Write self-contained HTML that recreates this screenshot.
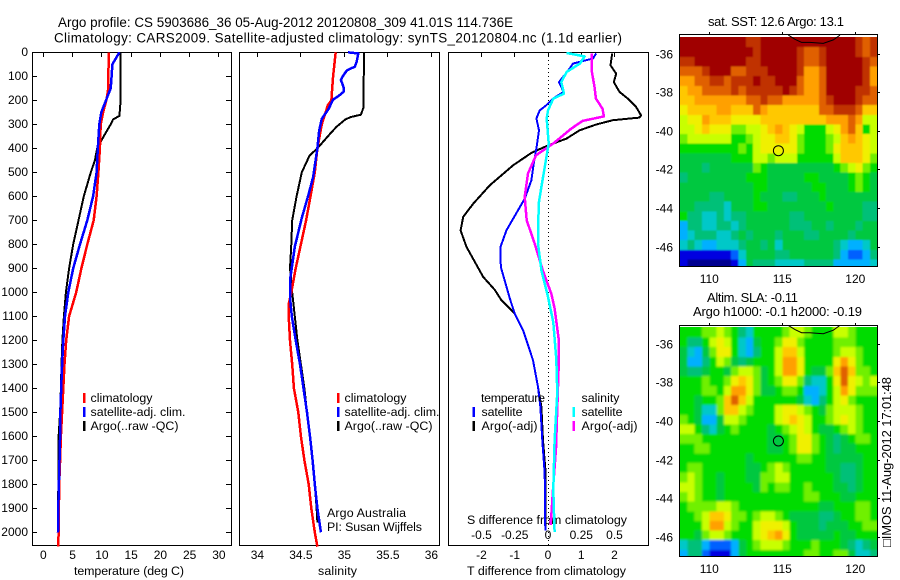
<!DOCTYPE html>
<html>
<head>
<meta charset="utf-8">
<title>Argo profile</title>
<style>
html,body{margin:0;padding:0;background:#fff;}
svg{display:block;}
text{font-family:"Liberation Sans",sans-serif;font-size:12px;fill:#000;}
text.lg{font-size:12.4px;}
text.ttl{font-size:13.4px;}
text.mttl{font-size:13px;}
</style>
</head>
<body>
<svg id="fig" xmlns="http://www.w3.org/2000/svg" width="900" height="580" viewBox="0 0 900 580">
<defs>
<clipPath id="clip-sst-map"><rect x="680" y="37" width="197" height="229"/></clipPath>
<clipPath id="clip-sla-map"><rect x="680" y="327" width="197" height="229"/></clipPath>
<filter id="blur-sst-map" filterUnits="userSpaceOnUse" x="650" y="0" width="250" height="300"><feGaussianBlur stdDeviation="0.7"/></filter>
<filter id="blur-sla-map" filterUnits="userSpaceOnUse" x="650" y="300" width="250" height="280"><feGaussianBlur stdDeviation="1.1"/></filter>
</defs>
<rect x="0" y="0" width="900" height="580" fill="#fff"/>
<text class="ttl" x="58" y="27" textLength="455" lengthAdjust="spacing">Argo profile: CS 5903686_36 05-Aug-2012 20120808_309 41.01S 114.736E</text>
<text class="ttl" x="54" y="42.5" textLength="568" lengthAdjust="spacing">Climatology: CARS2009. Satellite-adjusted climatology: synTS_20120804.nc (1.1d earlier)</text>

<text class="lg" x="74" y="575" textLength="110" lengthAdjust="spacing">temperature (deg C)</text>
<text class="lg" x="318" y="575" textLength="39" lengthAdjust="spacing">salinity</text>
<text class="lg" x="467" y="575" textLength="159" lengthAdjust="spacing">T difference from climatology</text>
<text class="lg" x="467" y="524" textLength="160" lengthAdjust="spacing">S difference from climatology</text>

<text class="mttl" x="708" y="26" textLength="136" lengthAdjust="spacing">sat. SST: 12.6 Argo: 13.1</text>
<text class="mttl" x="707" y="302" textLength="91" lengthAdjust="spacing">Altim. SLA: -0.11</text>
<text class="mttl" x="693" y="316" textLength="169" lengthAdjust="spacing">Argo h1000: -0.1 h2000: -0.19</text>
<text class="mttl" transform="translate(891,547) rotate(-90)" textLength="170" lengthAdjust="spacing">□IMOS 11-Aug-2012 17:01:48</text>

<text class="lg" x="327" y="517" textLength="79" lengthAdjust="spacing">Argo Australia</text>
<text class="lg" x="327" y="531" textLength="95" lengthAdjust="spacing">PI: Susan Wijffels</text>

<g id="overlay">
<rect x="83" y="393" width="2.5" height="10" fill="#ff0000"/>
<rect x="83" y="407" width="2.5" height="10" fill="#0000ff"/>
<rect x="83" y="421" width="2.5" height="10" fill="#000"/>
<text class="lg" x="90.5" y="402" textLength="62" lengthAdjust="spacing">climatology</text>
<text class="lg" x="90.5" y="416" textLength="95" lengthAdjust="spacing">satellite-adj. clim.</text>
<text class="lg" x="90.5" y="430" textLength="88" lengthAdjust="spacing">Argo(..raw -QC)</text>

<rect x="337" y="393" width="2.5" height="10" fill="#ff0000"/>
<rect x="337" y="407" width="2.5" height="10" fill="#0000ff"/>
<rect x="337" y="421" width="2.5" height="10" fill="#000"/>
<text class="lg" x="344.5" y="402" textLength="62" lengthAdjust="spacing">climatology</text>
<text class="lg" x="344.5" y="416" textLength="95" lengthAdjust="spacing">satellite-adj. clim.</text>
<text class="lg" x="344.5" y="430" textLength="88" lengthAdjust="spacing">Argo(..raw -QC)</text>

<text class="lg" x="481" y="402" textLength="64" lengthAdjust="spacing">temperature</text>
<text class="lg" x="581.5" y="402" textLength="38" lengthAdjust="spacing">salinity</text>
<rect x="472.5" y="407" width="2.5" height="10" fill="#0000ff"/>
<rect x="472.5" y="421" width="2.5" height="10" fill="#000"/>
<rect x="572.5" y="407" width="2.5" height="10" fill="#00ffff"/>
<rect x="572.5" y="421" width="2.5" height="10" fill="#ff00ff"/>
<text class="lg" x="481.5" y="416" textLength="41" lengthAdjust="spacing">satellite</text>
<text class="lg" x="481.5" y="430" textLength="56" lengthAdjust="spacing">Argo(-adj)</text>
<text class="lg" x="581.5" y="416" textLength="41" lengthAdjust="spacing">satellite</text>
<text class="lg" x="581.5" y="430" textLength="56" lengthAdjust="spacing">Argo(-adj)</text>
</g>
</svg>

<script>
// ---- depth axis ----
const depthTicks = [0,100,200,300,400,500,600,700,800,900,1000,1100,1200,1300,1400,1500,1600,1700,1800,1900,2000];

// ---- temperature panel ----
const tempTicks = [0,5,10,15,20,25,30];
const tempClimDepth = [0,100,150,180,200,250,300,400,500,600,700,800,900,1000,1100,1200,1300,1400,1500,1600,1700,1800,1900,2000,2060];
const tempClimValue = [11.2,11.1,11.1,10.9,10.75,10.2,9.8,9.65,9.4,9.1,8.6,7.5,6.5,5.6,4.4,3.9,3.6,3.4,3.2,3.0,2.85,2.7,2.65,2.6,2.55];
const tempSatDepth = [0,50,100,150,200,250,300,400,500,600,700,800,900,1000,1100,1200,1300,1400,1500,1600,1700,1800,1900,2000];
const tempSatValue = [13.0,11.8,11.65,11.5,10.7,9.9,9.55,9.3,9.1,8.5,7.5,6.25,5.1,4.26,3.7,3.4,3.2,3.05,2.9,2.85,2.75,2.65,2.55,2.5];
const tempArgoDepth = [0,200,250,265,280,300,350,400,450,500,600,700,800,900,1000,1100,1200,1300,1400,1500,1600,1800,2000];
const tempArgoValue = [13.2,13.2,13.05,13.0,11.9,11.5,10.3,9.2,8.8,8.1,6.9,6.0,5.1,4.4,3.85,3.5,3.25,3.1,3.0,2.85,2.6,2.55,2.5];

// ---- salinity panel ----
const salTicks = [34,34.5,35,35.5,36];
const salClimDepth = [0,100,150,200,220,300,400,500,600,700,800,900,1000,1050,1100,1200,1300,1400,1500,1600,1700,1800,1900,2000,2060];
const salClimValue = [34.9,34.87,34.86,34.85,34.81,34.74,34.69,34.66,34.61,34.56,34.5,34.44,34.39,34.36,34.36,34.375,34.4,34.42,34.47,34.5,34.54,34.59,34.62,34.66,34.69];
const salSatDepth = [0,5,40,60,75,95,115,145,165,183,197,235,277,325,400,520,590,690,810,935,1020,1100,1200,1300,1400,1500,1600,1700,1800,1900,2000];
const salSatValue = [35.04,35.16,35.14,35.12,35.03,34.99,34.96,34.99,34.99,34.93,34.87,34.82,34.74,34.71,34.69,34.64,34.59,34.51,34.43,34.38,34.375,34.395,34.44,34.49,34.53,34.57,34.605,34.635,34.66,34.69,34.73];
const salArgoDepth = [0,200,230,260,270,280,310,340,400,430,500,600,700,800,900,1000,1100,1200,1300,1400,1500,1600,1700,1800,1900,1960];
const salArgoValue = [35.225,35.22,35.22,35.19,35.07,35.01,34.91,34.835,34.69,34.6,34.51,34.45,34.4,34.39,34.375,34.4,34.43,34.46,34.5,34.54,34.57,34.605,34.635,34.66,34.68,34.69];

// ---- difference panel ----
const tDiffTicks = [-2,-1,0,1,2];
const sDiffTicks = [-0.5,-0.25,0,0.25,0.5];
const dTArgoDepth = [5,54,89,124,165,193,228,263,272,283,301,325,360,388,419,471,554,631,686,742,811,936,990,1033,1089,1158,1283,1394,1478,1617,1755,1992];
const dTArgoValue = [1.93,1.88,2.05,1.98,2.15,2.4,2.65,2.8,2.75,1.95,1.45,0.95,0.55,0,-0.5,-1.05,-1.75,-2.25,-2.55,-2.63,-2.45,-1.95,-1.6,-1.4,-1.0,-0.75,-0.45,-0.3,-0.2,-0.15,-0.07,-0.07];
const dTSatDepth = [5,26,47,68,124,165,193,221,242,276,325,401,464,533,610,742,811,894,1026,1089,1158,1283,1394,1478,1617,1755,1992];
const dTSatValue = [1.45,1.35,0.75,0.65,0.33,0.47,0.15,-0.05,-0.25,-0.35,-0.27,-0.35,-0.43,-0.5,-0.7,-1.25,-1.43,-1.42,-1.15,-1.0,-0.75,-0.45,-0.3,-0.23,-0.17,-0.1,-0.08];
const dSArgoDepth = [5,82,144,193,235,267,286,318,380,429,505,603,700,797,908,1006,1067,1192,1317,1483,1650,1803,1970];
const dSArgoValue = [0.33,0.33,0.35,0.36,0.41,0.42,0.26,0.175,0.04,-0.09,-0.15,-0.175,-0.16,-0.1,-0.04,0.025,0.05,0.08,0.08,0.07,0.06,0.04,0.02];
const dSSatDepth = [3,17,47,82,124,172,193,242,276,380,464,561,631,797,908,1019,1125,1278,1417,1617,1825,1999];
const dSSatValue = [0.14,0.275,0.24,0.14,0.10,0.12,0.04,0,-0.01,0.005,-0.02,-0.05,-0.07,-0.075,-0.05,0,0.04,0.0625,0.07,0.05,0.04,0.05];

// ---- maps ----
const lonTicks = [110,115,120];
const latTicks = [-36,-38,-40,-42,-44,-46];
const argoLon = 114.736;
const argoLat = -41.01;
const coastLon = [115.41,115.87,116.32,116.89,117.81,118.49,118.95];
const coastLat = [-35.02,-35.24,-35.40,-35.40,-35.45,-35.27,-35.02];
// colour-class values per half-degree cell, north to south, west to east
const sstGrid = [
[15,15,15,15,15,15,15,15,15,14,14,15,15,15,15,15,15,15,15,15,15,15,15,15,14,13,14],
[15,15,15,15,15,15,15,15,15,15,14,15,15,15,15,15,14,13,13,14,15,15,15,15,14,13,14],
[14,14,15,15,15,15,15,15,15,14,14,15,15,15,15,15,14,13,13,14,15,15,15,15,15,14,13],
[13,13,13,14,15,15,15,13,13,14,14,14,15,15,15,15,14,12,12,13,15,15,15,15,15,14,12],
[12,12,13,13,14,14,13,14,14,14,15,14,14,15,15,15,13,12,12,13,15,15,15,15,15,14,12],
[11,12,12,13,13,13,13,14,13,14,14,14,14,14,15,14,13,12,12,13,15,15,15,15,14,14,13],
[11,11,12,12,12,12,12,12,12,13,13,14,13,13,12,12,12,12,12,13,14,15,15,15,14,13,13],
[10,11,11,11,11,12,12,11,11,11,13,12,11,11,11,11,11,11,11,13,13,14,14,14,13,11,11],
[9,10,10,12,11,11,11,10,10,10,10,11,11,11,11,11,11,11,11,11,12,12,12,13,12,9,9],
[9,9,10,11,10,10,10,8,8,9,9,10,11,12,11,10,9,7,7,7,9,10,12,13,11,7,9],
[8,9,9,9,9,9,9,7,7,8,9,10,10,11,11,10,8,7,7,7,8,9,11,12,11,10,9],
[7,7,7,7,7,7,7,7,8,7,9,10,10,10,10,10,8,7,7,7,8,10,11,11,11,10,9],
[6,6,6,6,6,6,6,7,7,7,9,9,8,9,9,9,7,7,7,7,7,9,11,11,11,10,8],
[6,6,6,5,6,6,6,6,6,6,8,7,6,6,6,6,6,6,6,6,6,7,8,9,10,8,7],
[5,6,6,6,6,6,6,6,6,7,7,7,6,6,6,6,6,7,7,6,6,6,6,7,8,7,6],
[6,6,6,6,6,6,6,6,6,6,7,7,6,6,6,6,6,6,7,7,6,6,6,7,8,7,6],
[6,6,6,6,5,5,6,6,6,6,7,6,6,6,5,5,6,6,6,7,6,6,6,6,6,6,6],
[6,6,5,5,5,5,4,6,6,6,7,7,6,6,6,6,6,6,6,6,7,6,6,6,6,5,5],
[7,5,5,4,4,5,4,5,5,6,6,6,6,6,6,5,5,6,6,6,6,6,6,6,6,5,5],
[3,5,5,4,4,5,5,4,5,6,6,6,6,6,6,5,5,5,6,6,5,6,6,6,5,6,6],
[3,4,5,5,5,4,4,5,6,5,6,6,6,5,6,6,6,5,5,6,6,6,6,5,6,6,6],
[4,5,4,3,3,4,4,4,5,6,6,5,6,4,6,6,6,6,6,6,6,5,4,3,3,4,6],
[1,1,1,1,1,1,1,2,4,6,6,6,6,5,5,6,6,6,6,6,6,5,3,2,2,3,5],
[1,0,0,0,0,0,0,1,3,6,5,5,5,4,4,4,4,5,5,5,5,3,3,3,3,3,4]
];
const slaGrid = [
[7,7,7,8,8,9,8,7,5,4,7,7,7,7,8,9,9,8,7,7,7,9,9,8,7,7,7],
[7,5,5,7,9,10,9,7,4,3,6,7,7,8,10,10,8,7,7,7,7,8,8,8,7,7,7],
[6,4,3,6,8,10,10,7,4,3,5,7,7,9,11,11,9,7,7,7,7,8,9,9,8,7,7],
[6,3,3,5,7,9,8,6,5,6,7,7,7,9,12,12,10,7,7,7,7,10,12,10,8,7,7],
[6,5,5,6,7,7,6,8,9,9,8,6,7,9,12,12,10,7,6,6,8,11,13,11,8,8,7],
[7,7,7,8,7,7,8,10,11,10,8,6,7,8,10,10,8,5,4,4,7,10,13,10,9,8,9],
[7,7,7,8,8,7,9,12,12,10,8,6,6,7,8,8,7,3,3,4,7,9,12,10,8,8,8],
[7,7,6,7,7,8,11,13,11,9,7,7,7,7,7,7,6,4,3,5,7,9,10,8,7,7,7],
[7,7,6,4,4,8,11,11,9,8,7,7,7,9,10,10,9,8,7,6,8,9,9,9,8,7,7],
[8,7,6,3,3,6,9,9,8,7,7,7,7,9,10,11,10,9,7,7,8,9,10,9,8,7,7],
[9,9,7,5,4,6,7,8,7,7,7,7,6,7,8,9,10,9,7,6,6,7,8,9,8,7,7],
[8,8,8,7,7,7,7,7,7,7,7,7,6,6,7,8,10,10,8,7,6,5,6,7,8,8,7],
[7,7,8,8,7,7,7,7,7,7,7,7,6,6,7,8,10,10,8,7,6,5,6,6,7,7,7],
[7,7,7,7,7,7,7,7,7,6,7,7,7,7,7,7,8,8,7,7,6,6,6,6,6,7,7],
[7,8,8,7,7,7,7,7,7,6,6,7,8,9,8,7,7,7,7,7,6,6,5,5,6,7,7],
[8,9,8,7,7,6,7,7,7,6,6,8,8,9,9,7,7,7,7,7,7,6,5,5,6,7,7],
[9,9,8,7,7,6,7,7,7,7,6,8,7,8,8,7,7,8,7,7,7,6,6,5,6,7,7],
[8,9,8,7,7,6,7,7,7,7,7,7,7,7,7,7,7,8,8,7,7,7,6,6,7,7,7],
[7,8,8,8,8,9,9,8,7,7,7,7,7,7,7,7,7,7,7,6,6,7,7,7,8,8,7],
[7,7,8,9,11,11,10,8,8,7,8,9,9,8,7,6,6,6,6,5,5,6,7,7,8,8,7],
[7,7,7,9,12,12,9,8,7,7,9,10,10,10,9,7,6,6,6,5,6,6,6,7,7,8,8],
[7,7,6,8,9,9,8,7,7,7,9,10,11,12,10,7,6,6,6,6,6,7,6,6,7,7,7],
[4,5,5,3,2,2,2,3,6,7,8,9,9,9,8,7,7,7,8,7,7,7,6,5,4,5,6],
[3,5,5,2,1,1,1,3,6,7,7,7,7,7,7,7,7,8,8,7,7,8,8,6,4,4,5]
];

// ---- helpers ----
const NS = 'http://www.w3.org/2000/svg';
const fig = document.getElementById('fig');
const overlay = document.getElementById('overlay');
const palette = ['#000090','#0000e0','#0060ff','#00b0ff','#00c8c8','#00c078','#00c840','#00dc00','#70f000','#c8ff00','#f0f000','#ffc800','#ffa000','#e06000','#c03000','#a00000'];

function svgEl(tag, name, attrs) {
  const el = document.createElementNS(NS, tag);
  
  
  for (const k in attrs) el.setAttribute(k, attrs[k]);
  fig.insertBefore(el, overlay);
  return el;
}
function tickLine(name, x1, y1, x2, y2) {
  return svgEl('line', name, {x1:x1, y1:y1, x2:x2, y2:y2, stroke:'#000', 'stroke-width':1, 'shape-rendering':'crispEdges'});
}
function label(name, x, y, anchor, str) {
  const t = svgEl('text', name, {x:x, y:y, 'text-anchor':anchor});
  t.textContent = str;
  return t;
}
function frame(name, x0, y0, x1, y1) {
  return svgEl('rect', name, {x:x0+0.5, y:y0+0.5, width:x1-x0, height:y1-y0, fill:'none', stroke:'#000', 'stroke-width':1, 'shape-rendering':'crispEdges'});
}
function profile(name, depth, value, xs, colour, width) {
  let pts = '';
  for (let i = 0; i < depth.length; i++) pts += xs(value[i]).toFixed(1) + ',' + yDepth(depth[i]).toFixed(1) + ' ';
  return svgEl('polyline', name, {points:pts.trim(), fill:'none', stroke:colour, 'stroke-width':width, 'stroke-linejoin':'round', 'shape-rendering':'crispEdges'});
}

// ---- scales ----
function yDepth(d) { return 52.3 + d * 0.24; }
function xTemp(t) { return 43.4 + t * 5.85; }
function xSal(s) { return 257.4 + (s - 34) * 87; }
function xDT(t) { return 548 + t * 33.25; }
function xDS(s) { return 548 + s * 133; }
function xLon(lon) { return 709.3 + (lon - 110) * 14.6; }
function yLat1(lat) { return 54 + (-36 - lat) * 19.3; }
function yLat2(lat) { return 344.3 + (-36 - lat) * 19.3; }

// ---- profile panels ----
const panelTop = 52, panelBottom = 545, tickLabelY = 559;
frame('temperature-axes', 32, panelTop, 231, panelBottom);
frame('salinity-axes', 239, panelTop, 439, panelBottom);
frame('difference-axes', 448, panelTop, 648, panelBottom);

depthTicks.forEach(function (d) {
  const y = Math.floor(yDepth(d)) + 0.5;
  tickLine('depth-tick-left', 32, y, 37, y);
  tickLine('depth-tick-right', 226, y, 231, y);
  label('depth-tick-label', 28, y + 3.5, 'end', String(d));
});
tempTicks.forEach(function (t) {
  const x = Math.floor(xTemp(t)) + 0.5;
  tickLine('temperature-tick', x, 52, x, 57);
  label('temperature-tick-label', xTemp(t), tickLabelY, 'middle', String(t));
});
salTicks.forEach(function (s) {
  const x = Math.floor(xSal(s)) + 0.5;
  tickLine('salinity-tick', x, 52, x, 57);
  label('salinity-tick-label', xSal(s), tickLabelY, 'middle', String(s));
});
tDiffTicks.forEach(function (t) {
  const x = Math.floor(xDT(t)) + 0.5;
  tickLine('t-difference-tick', x, 52, x, 57);
  label('t-difference-tick-label', xDT(t), tickLabelY, 'middle', String(t));
});
sDiffTicks.forEach(function (s) {
  label('s-difference-tick-label', xDS(s), 539, 'middle', String(s));
});

profile('temperature-argo-line', tempArgoDepth, tempArgoValue, xTemp, '#000', 2);
profile('temperature-climatology-line', tempClimDepth, tempClimValue, xTemp, '#ff0000', 2.5);
profile('temperature-satellite-line', tempSatDepth, tempSatValue, xTemp, '#0000ff', 2.5);

profile('salinity-argo-line', salArgoDepth, salArgoValue, xSal, '#000', 2);
profile('salinity-climatology-line', salClimDepth, salClimValue, xSal, '#ff0000', 2.5);
profile('salinity-satellite-line', salSatDepth, salSatValue, xSal, '#0000ff', 2.5);

svgEl('line', 'zero-difference-line', {x1:548.5, y1:52, x2:548.5, y2:545, stroke:'#000', 'stroke-width':1, 'stroke-dasharray':'1 3', 'shape-rendering':'crispEdges'});
profile('t-difference-argo-line', dTArgoDepth, dTArgoValue, xDT, '#000', 2);
profile('t-difference-satellite-line', dTSatDepth, dTSatValue, xDT, '#0000ff', 2);
profile('s-difference-argo-line', dSArgoDepth, dSArgoValue, xDS, '#ff00ff', 2.5);
profile('s-difference-satellite-line', dSSatDepth, dSSatValue, xDS, '#00ffff', 2.5);

// ---- maps ----
function drawMap(prefix, grid, yLat, top, bottom) {
  const lonStart = 108, latStart = -35.15, step = 0.5, pad = 10;
  const clip = svgEl('g', prefix + '-image-clip', {'clip-path':'url(#clip-' + prefix + ')'});
  const blurred = svgEl('g', prefix + '-image', {filter:'url(#blur-' + prefix + ')'});
  clip.appendChild(blurred);
  grid.forEach(function (row, j) {
    row.forEach(function (v, i) {
      let x0 = xLon(lonStart + i * step), x1 = xLon(lonStart + (i + 1) * step);
      let y0 = yLat(latStart - j * step), y1 = yLat(latStart - (j + 1) * step);
      if (i === 0) x0 -= pad;
      if (i === row.length - 1) x1 += pad;
      if (j === 0) y0 -= pad;
      if (j === grid.length - 1) y1 += pad;
      const cell = svgEl('rect', prefix + '-cell', {x:x0.toFixed(2), y:y0.toFixed(2), width:(x1 - x0 + 0.3).toFixed(2), height:(y1 - y0 + 0.3).toFixed(2), fill:palette[Math.max(0, Math.min(15, Math.round(v)))], 'shape-rendering':'crispEdges'});
      blurred.appendChild(cell);
    });
  });
  frame(prefix + '-axes', 679, top, 877, bottom);
  let coast = '';
  for (let k = 0; k < coastLon.length; k++) coast += xLon(coastLon[k]).toFixed(1) + ',' + yLat(coastLat[k]).toFixed(1) + ' ';
  svgEl('polyline', prefix + '-coastline', {points:coast.trim(), fill:'none', stroke:'#000', 'stroke-width':1});
  lonTicks.forEach(function (lon) {
    const x = Math.floor(xLon(lon)) + 0.5;
    tickLine(prefix + '-lon-tick', x, top - 2, x, top);
    label(prefix + '-lon-label', xLon(lon), bottom + 17, 'middle', String(lon));
  });
  latTicks.forEach(function (lat) {
    const y = Math.floor(yLat(lat)) + 0.5;
    tickLine(prefix + '-lat-tick', 877, y, 880, y);
    label(prefix + '-lat-label', 673, y + 4, 'end', String(lat));
  });
  svgEl('circle', prefix + '-argo-marker', {cx:xLon(argoLon).toFixed(1), cy:yLat(argoLat).toFixed(1), r:5, fill:'none', stroke:'#000', 'stroke-width':1});
}
drawMap('sst-map', sstGrid, yLat1, 34, 266);
drawMap('sla-map', slaGrid, yLat2, 325, 556);
</script>
</body>
</html>
